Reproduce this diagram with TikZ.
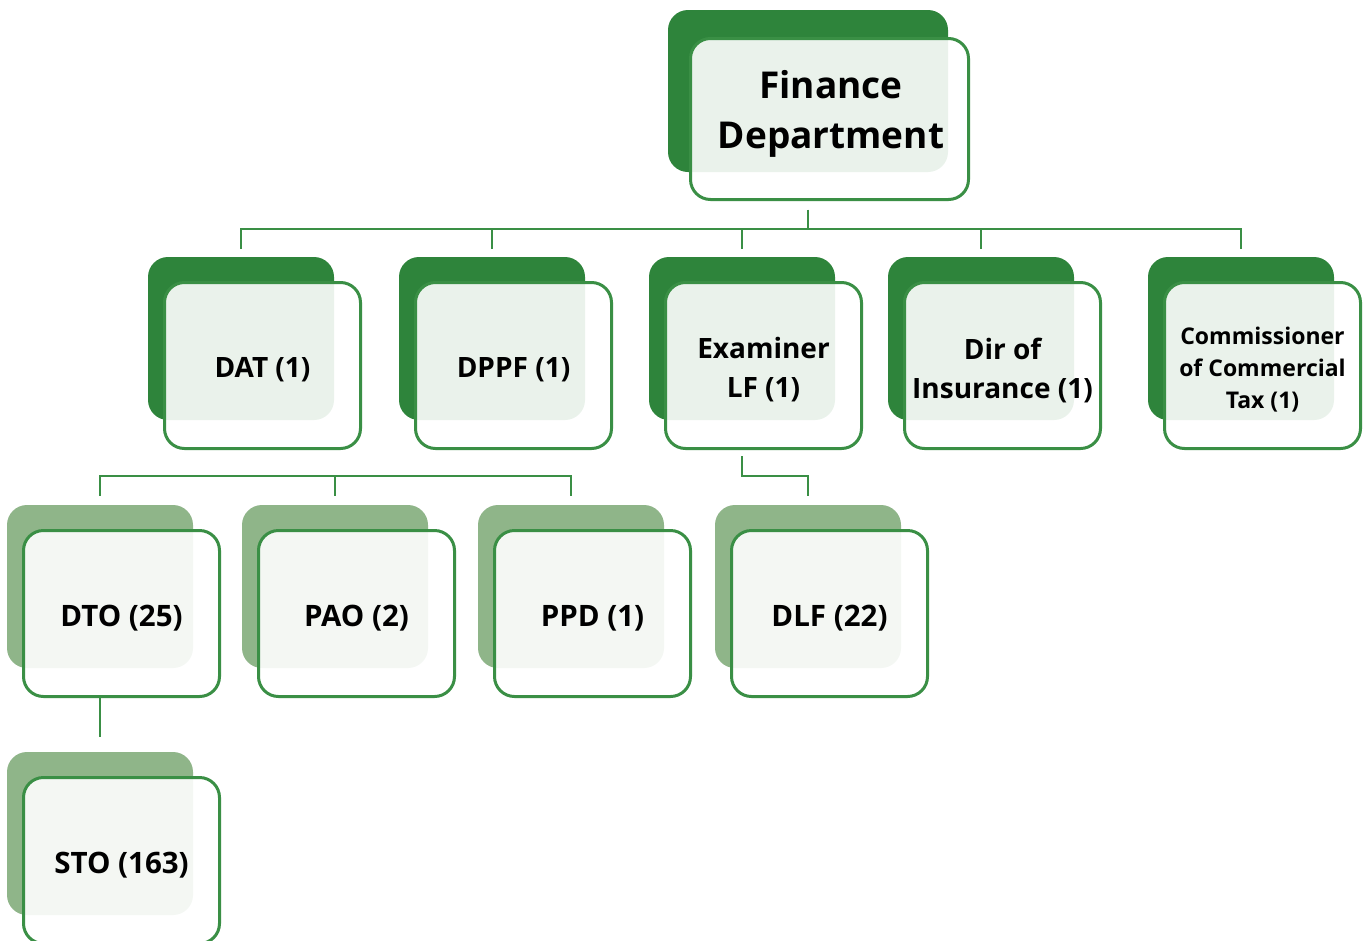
\documentclass[tikz,border=0pt]{standalone}
\usepackage{fontspec}
\setmainfont{Open Sans}
\usetikzlibrary{calc}

\definecolor{deepgreen}{HTML}{2E843B}
\definecolor{palegreen}{HTML}{8FB589}
\definecolor{edgegreen}{HTML}{3A8F45}

\tikzset{
  backdark/.style={draw=none, fill=deepgreen, rounded corners=20pt, inner sep=0pt},
  backpale/.style={draw=none, fill=palegreen, rounded corners=20pt, inner sep=0pt},
  frontbox/.style={draw=edgegreen, line width=3pt, fill=white, fill opacity=0.9,
                   rounded corners=20pt, inner sep=0pt},
  lbl/.style={font=\bfseries, align=center, inner sep=0pt, text=black},
  lblmid/.style={lbl, font=\fontsize{28}{39}\selectfont\bfseries},
  lbllow/.style={lbl, font=\fontsize{29.5}{39}\selectfont\bfseries},
  lblsmall/.style={lbl, font=\fontsize{23}{32}\selectfont\bfseries},
  lbltop/.style={lbl, font=\fontsize{37}{50}\selectfont\bfseries},
  link/.style={draw=edgegreen, line width=2.6pt},
}

% #1 name, #2 back style, #3 back left x, #4 back top y, #5 label style, #6 label
\newcommand{\orgcard}[6]{%
  \node[#2, minimum width=186pt, minimum height=163pt] (#1-b) at (#3+93, #4+81.5) {};
  \node[frontbox, minimum width=196pt, minimum height=166pt] (#1-f) at (#3+114.5, #4+108.5) {};
  \node[#5] (#1-t) at ($(#1-f.center)+(0,4.5)$) {#6};
}

\begin{document}
\begin{tikzpicture}[x=1pt, y=-1pt]
  \fill[white] (0,0) rectangle (1370,940);
  \useasboundingbox (0,0) rectangle (1370,940);
  \clip (0,0) rectangle (1370,940);

  % top card
  \node[backdark, minimum width=280pt, minimum height=162pt] (fin-b) at (808,91) {};
  \node[frontbox, minimum width=278pt, minimum height=161pt] (fin-f) at (829.5,119) {};
  \node[lbltop] (fin-t) at (831,114) {Finance\\Department};

  % second level
  \orgcard{dat}{backdark}{148}{257}{lblmid}{DAT (1)}
  \orgcard{dppf}{backdark}{399}{257}{lblmid}{DPPF (1)}
  \orgcard{exam}{backdark}{649}{257}{lblmid}{Examiner\\LF (1)}
  \orgcard{dir}{backdark}{888}{257}{lblmid}{Dir of\\Insurance (1)}
  \orgcard{com}{backdark}{1148}{257}{lblsmall}{Commissioner\\of Commercial\\Tax (1)}

  % third level
  \orgcard{dto}{backpale}{7}{505}{lbllow}{DTO (25)}
  \orgcard{pao}{backpale}{242}{505}{lbllow}{PAO (2)}
  \orgcard{ppd}{backpale}{478}{505}{lbllow}{PPD (1)}
  \orgcard{dlf}{backpale}{715}{505}{lbllow}{DLF (22)}

  % fourth level
  \orgcard{sto}{backpale}{7}{752}{lbllow}{STO (163)}

  % connectors: finance -> second level
  \coordinate (bus-a) at (808,229);
  \draw[link] ($(fin-b.south |- fin-f.south)+(0,8.5)$) -- (bus-a);
  \draw[link] ($(dat-b.north)+(0,-8)$) |- (bus-a) -| ($(com-b.north)+(0,-8)$);
  \foreach \n in {dppf,exam,dir}
    \draw[link] (\n-b.north |- bus-a) -- ($(\n-b.north)+(0,-8)$);

  % DAT -> DTO, PAO, PPD
  \coordinate (bus-b) at ($(dto-b.north)+(0,-29)$);
  \draw[link] ($(dto-b.north)+(0,-9)$) |- (ppd-b.north |- bus-b) -- ($(ppd-b.north)+(0,-9)$);
  \draw[link] (pao-b.north |- bus-b) -- ($(pao-b.north)+(0,-9)$);

  % Examiner LF -> DLF
  \draw[link] ($(exam-b.south |- exam-f.south)+(0,6)$) |- ($(dlf-b.north)+(0,-29)$) -- ($(dlf-b.north)+(0,-9)$);

  % DTO -> STO
  \draw[link] (dto-b.south |- dto-f.south) -- ($(sto-b.north)+(0,-15)$);
\end{tikzpicture}
\end{document}
